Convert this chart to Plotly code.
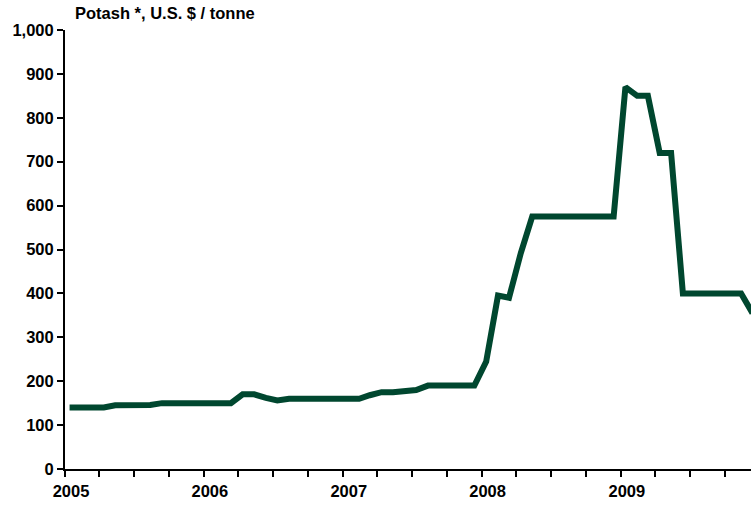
import plotly.graph_objects as go

# Monthly potash price, U.S. $ / tonne (Jan 2005 .. Dec 2009), mid-month points
months = [f"{y}-{m:02d}-13" for y in range(2005, 2010) for m in range(1, 13)]
prices = [
    140, 140, 140, 140, 145, 145, 146, 146, 150, 150, 150, 150,   # 2005
    150, 150, 150, 170, 170, 162, 156, 160, 160, 160, 160, 160,   # 2006
    160, 160, 168, 175, 175, 177, 180, 190, 190, 190, 190, 190,   # 2007
    245, 395, 390, 492, 575, 575, 575, 575, 575, 575, 575, 575,   # 2008
    870, 850, 850, 720, 720, 400, 400, 400, 400, 400, 400, 355,   # 2009
]
title_text = "Potash *, U.S. $ / tonne"
y_ticks = [0, 100, 200, 300, 400, 500, 600, 700, 800, 900, 1000]

FONT = "Arial, Liberation Sans, sans-serif"
FS = 16.5
LINE_COLOR = "#00472F"

fig = go.Figure()
fig.add_trace(go.Scatter(
    x=months, y=prices, mode="lines",
    line=dict(color=LINE_COLOR, width=6),
    hoverinfo="skip", showlegend=False,
))

fig.update_layout(
    width=751, height=505,
    margin=dict(l=65, r=0, t=30, b=36, autoexpand=False),
    paper_bgcolor="white", plot_bgcolor="white",
    font=dict(family=FONT, size=FS, color="black"),
    annotations=[dict(
        text="<b>" + title_text + "</b>",
        xref="paper", yref="paper", x=0.0113, y=1.0387,
        xanchor="left", yanchor="middle", showarrow=False,
        font=dict(family=FONT, size=FS, color="black"),
    )],
)

fig.update_xaxes(
    type="date",
    range=["2005-01-01", "2009-12-09"],
    showgrid=False, zeroline=False,
    showline=True, linecolor="black", linewidth=2,
    ticks="outside", ticklen=6, tickwidth=2, tickcolor="black",
    dtick="M12", tick0="2005-01-01", tickformat="<b>%Y</b>",
    ticklabelshift=6,
    tickfont=dict(family=FONT, size=FS, color="black"),
    minor=dict(dtick="M3", tick0="2005-01-01", ticks="outside",
               ticklen=6, tickwidth=2, tickcolor="black", showgrid=False),
)

fig.update_yaxes(
    range=[0, 1000],
    showgrid=False, zeroline=False,
    showline=True, linecolor="black", linewidth=2,
    ticks="outside", ticklen=6, tickwidth=2, tickcolor="black",
    tickvals=y_ticks,
    ticktext=[f"<b>{v:,}</b>" for v in y_ticks],
    tickfont=dict(family=FONT, size=FS, color="black"),
)

fig.write_html("out.html", config={"displayModeBar": False},
               post_script="document.body.style.margin='0';")
